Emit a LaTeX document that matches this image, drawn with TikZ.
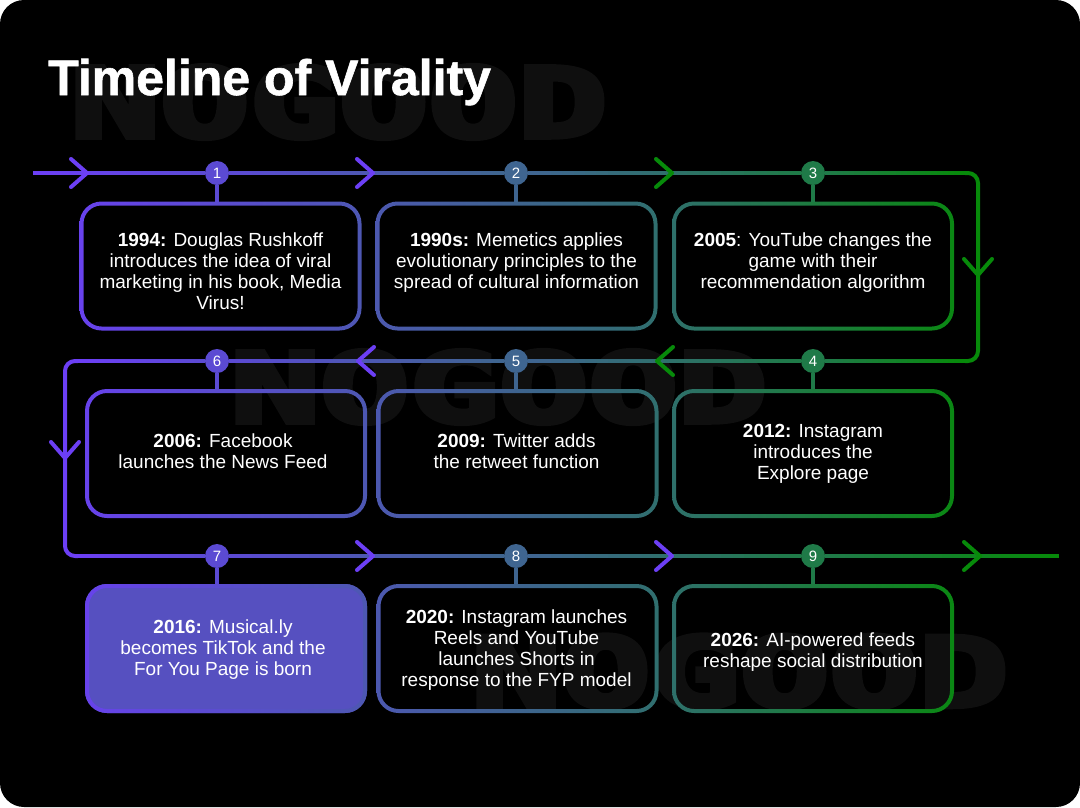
\documentclass[tikz,border=0pt]{standalone}
\usepackage{fontspec}
\usepackage{graphicx}
\setmainfont{Liberation Sans}
\newfontfamily\wmfont[FakeBold=5]{DejaVu Sans Mono Bold}
\newfontfamily\titlefont[FakeBold=1.2]{Liberation Sans Bold}
\usetikzlibrary{calc}

\definecolor{tlA}{HTML}{6C3FF5}
\definecolor{tlB}{HTML}{5B4AD3}
\definecolor{tlC}{HTML}{3F6590}
\definecolor{tlD}{HTML}{1F7A48}
\definecolor{tlE}{HTML}{078A0A}
\definecolor{tlfill}{HTML}{5650C0}
\definecolor{tlmark}{HTML}{0F0F0F}

\tikzset{
  tlframe/.style={rectangle, rounded corners=22pt, minimum width=282pt, minimum height=129pt, inner sep=0pt, outer sep=0pt},
  tltext/.style={align=center, text=white, inner sep=0pt, font=\fontsize{19}{21}\selectfont},
  tldot/.style={circle, minimum size=24pt, inner sep=0pt, outer sep=0pt, text=white, font=\fontsize{15}{15}\selectfont},
  tlstem/.style={line width=4pt},
  tlmarktext/.style={inner sep=0pt, text=tlmark},
  chevron/.pic={\draw[line width=4pt, line cap=round, line join=round] (-16,-14) -- (0,0) -- (-16,14);}
}

% Horizontal gradient line, cut in short pieces
\newcommand{\gline}[4]{
  \foreach \k in {0,...,23}{
    \pgfmathsetmacro\pct{100-\k*100/23}
    \pgfmathsetmacro\nxt{min(24,\k+1.2)}
    \draw[line width=4pt, #3!\pct!#4] ($(#1)!\k/24!(#2)$) -- ($(#1)!{\nxt/24}!(#2)$);
  }
}
% Gradient outline round a box node
\newcommand{\gring}[3]{
  \shade[even odd rule, left color=#2, right color=#3, rounded corners=22pt]
    (#1.north west) rectangle (#1.south east)
    [rounded corners=18pt] ($(#1.north west)+(4,4)$) rectangle ($(#1.south east)+(-4,-4)$);
}

\begin{document}
\begin{tikzpicture}[x=1pt, y=-1pt]
  \useasboundingbox (0,0) rectangle (1080,807);
  % Page
  \fill[white] (0,0) rectangle (1080,807);
  \fill[black, rounded corners=24pt] (0,0) rectangle (1080,807);

  % Watermarks
  \node[tlmarktext] (mark1) at (339,102) {\resizebox{536pt}{72pt}{\wmfont NOGOOD}};
  \node[tlmarktext] (mark2) at (499,387) {\resizebox{536pt}{72pt}{\wmfont NOGOOD}};
  \node[tlmarktext] (mark3) at (740,671.5) {\resizebox{536pt}{72pt}{\wmfont NOGOOD}};

  % Title
  \node[anchor=base west, inner sep=0pt, text=white, font=\fontsize{50}{50}\selectfont\titlefont] (title) at (48,95) {Timeline of Virality};

  % Boxes
  \node[tlframe] (box1) at (220.5,266) {};
  \node[tlframe] (box2) at (516.5,266) {};
  \node[tlframe] (box3) at (813,266) {};
  \node[tlframe] (box6) at (226,453.5) {};
  \node[tlframe] (box5) at (517.5,453.5) {};
  \node[tlframe] (box4) at (813,453.5) {};
  \node[tlframe, fill=tlfill] (box7) at (226,648.5) {};
  \node[tlframe] (box8) at (517.5,648.5) {};
  \node[tlframe] (box9) at (813,648.5) {};

  \gring{box1}{tlA!75!tlB}{tlB!52!tlC}
  \gring{box2}{tlB!47!tlC}{tlC!53!tlD}
  \gring{box3}{tlC!48!tlD}{tlD!15!tlE}
  \gring{box6}{tlA!70!tlB}{tlB!50!tlC}
  \gring{box5}{tlB!47!tlC}{tlC!53!tlD}
  \gring{box4}{tlC!48!tlD}{tlD!15!tlE}
  \gring{box7}{tlA!70!tlB}{tlB!50!tlC}
  \gring{box8}{tlB!47!tlC}{tlC!53!tlD}
  \gring{box9}{tlC!48!tlD}{tlD!15!tlE}

  % Numbered dots
  \foreach \n/\x/\y/\c in {1/217/173/tlB, 2/516/173/tlC, 3/813/173/tlD,
                           4/813/361/tlD, 5/516/361/tlC, 6/217/361/tlB,
                           7/217/556/tlB, 8/516/556/tlC, 9/813/556/tlD}
    \node[tldot, fill=\c] (dot\n) at (\x,\y) {\n};

  % Stems
  \foreach \n/\c in {1/tlB, 2/tlC, 3/tlD, 4/tlD, 5/tlC, 6/tlB, 7/tlB, 8/tlC, 9/tlD}
    \draw[tlstem, \c] (dot\n.south) -- (dot\n.south |- box\n.north);

  % Free ends and corners
  \coordinate (start) at (33,173);
  \coordinate (finish) at (1059,556);
  \coordinate (cornerNE) at (978,173);
  \coordinate (cornerSE) at (978,361);
  \coordinate (cornerNW) at (65,361);
  \coordinate (cornerSW) at (65,556);

  % Timeline, row by row
  \gline{start}{dot1.west}{tlA}{tlB}
  \gline{dot1.east}{dot2.west}{tlB}{tlC}
  \gline{dot2.east}{dot3.west}{tlC}{tlD}
  \gline{dot3.east}{$(cornerNE)+(-12,0)$}{tlD}{tlE}
  \draw[line width=4pt, tlE, rounded corners=10pt] ($(cornerNE)+(-13,0)$) -- (cornerNE) -- (cornerSE) -- ($(cornerSE)+(-13,0)$);
  \gline{$(cornerSE)+(-12,0)$}{dot4.east}{tlE}{tlD}
  \gline{dot4.west}{dot5.east}{tlD}{tlC}
  \gline{dot5.west}{dot6.east}{tlC}{tlB}
  \gline{dot6.west}{$(cornerNW)+(12,0)$}{tlB}{tlA}
  \draw[line width=4pt, tlA, rounded corners=10pt] ($(cornerNW)+(13,0)$) -- (cornerNW) -- (cornerSW) -- ($(cornerSW)+(13,0)$);
  \gline{$(cornerSW)+(12,0)$}{dot7.west}{tlA}{tlB}
  \gline{dot7.east}{dot8.west}{tlB}{tlC}
  \gline{dot8.east}{dot9.west}{tlC}{tlD}
  \gline{dot9.east}{finish}{tlD}{tlE}

  % Chevrons
  \pic[tlA] at (87,173) {chevron};
  \pic[tlA] at (373,173) {chevron};
  \pic[tlE] at (672,173) {chevron};
  \pic[tlE, rotate=-90] at (978,275) {chevron};
  \pic[tlE, rotate=180] at (657,361) {chevron};
  \pic[tlA, rotate=180] at (358,361) {chevron};
  \pic[tlA, rotate=-90] at (65,458) {chevron};
  \pic[tlA] at (373,556) {chevron};
  \pic[tlA] at (672,556) {chevron};
  \pic[tlE] at (980,556) {chevron};

  % Box texts
  \node[tltext] (text1) at ($(box1)+(0,5.5)$) {\textbf{1994:} Douglas Rushkoff\\introduces the idea of viral\\marketing in his book, Media\\Virus!};
  \node[tltext] (text2) at ($(box2)+(0,-3)$) {\textbf{1990s:} Memetics applies\\evolutionary principles to the\\spread of cultural information};
  \node[tltext] (text3) at ($(box3)+(0,-3)$) {\textbf{2005}: YouTube changes the\\game with their\\recommendation algorithm};
  \node[tltext] (text4) at ($(box4)+(0,0.5)$) {\textbf{2012:} Instagram\\introduces the\\Explore page};
  \node[tltext] (text5) at ($(box5)+(-1,-2)$) {\textbf{2009:} Twitter adds\\the retweet function};
  \node[tltext] (text6) at ($(box6)+(-3,-2)$) {\textbf{2006:} Facebook\\launches the News Feed};
  \node[tltext] (text7) at ($(box7)+(-3,1.5)$) {\textbf{2016:} Musical.ly\\becomes TikTok and the\\For You Page is born};
  \node[tltext] (text8) at ($(box8)+(-1,2)$) {\textbf{2020:} Instagram launches\\Reels and YouTube\\launches Shorts in\\response to the FYP model};
  \node[tltext] (text9) at ($(box9)+(0,4)$) {\textbf{2026:} AI-powered feeds\\reshape social distribution};
\end{tikzpicture}
\end{document}
